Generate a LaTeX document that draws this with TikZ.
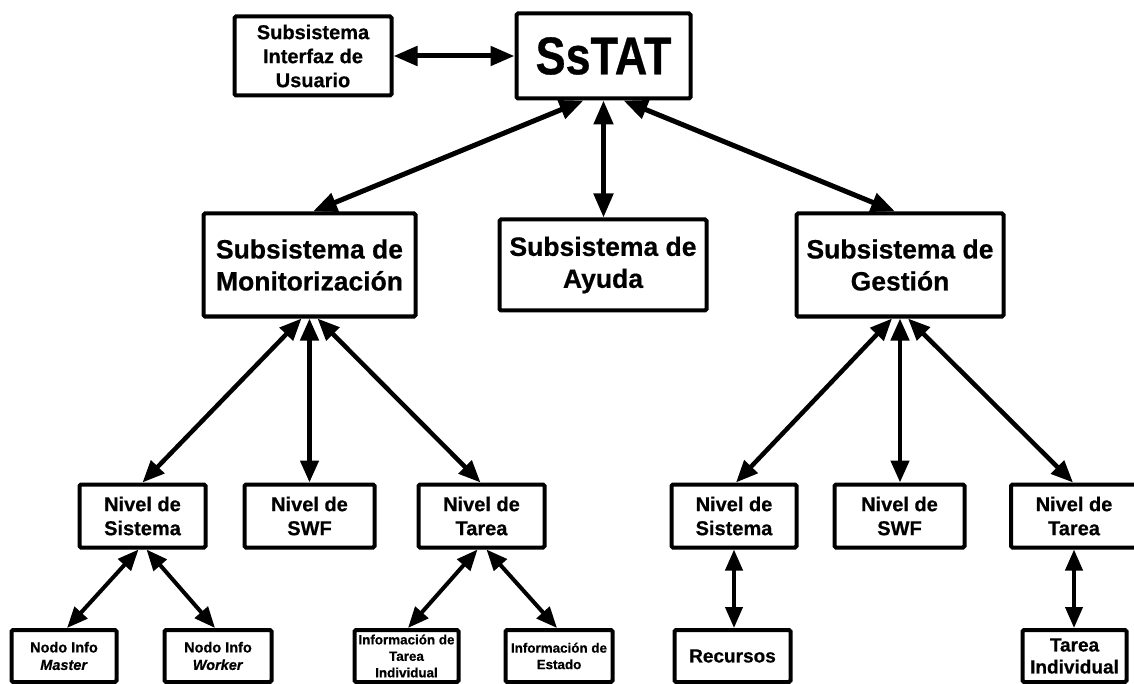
\documentclass[tikz,border=0pt]{standalone}
\usepackage{fontspec}
\setmainfont{Liberation Sans}[BoldFeatures={FakeBold=0.6},BoldItalicFeatures={FakeBold=0.6}]
\usetikzlibrary{arrows.meta}
\begin{document}
\begin{tikzpicture}[x=1pt,y=-1pt,
  box/.style={draw, line width=4pt, rounded corners=1.5pt, inner sep=0pt, align=center, font=\bfseries},
  arrA/.style={line width=5pt, {Triangle[length=24pt,width=19pt]}-{Triangle[length=24pt,width=19pt]}},
  arrB/.style={line width=4.5pt, {Triangle[length=22pt,width=18pt]}-{Triangle[length=22pt,width=18pt]}},
  arrC/.style={line width=4pt, {Triangle[length=21pt,width=17pt]}-{Triangle[length=21pt,width=17pt]}},
  fA/.style={font=\bfseries\fontsize{26.5}{32}\selectfont},
  fB/.style={font=\bfseries\fontsize{20}{24}\selectfont},
  fC/.style={font=\bfseries\fontsize{14.5}{17.5}\selectfont},
  fD/.style={font=\bfseries\fontsize{13.4}{16.5}\selectfont},
  fE/.style={font=\bfseries\fontsize{19}{22}\selectfont}]
\useasboundingbox (0,0) rectangle (1134,684);
% top
\node[box, minimum width=174pt, minimum height=85pt] (sstat) at (603.5,56)
  {\fontsize{45}{50}\selectfont\scalebox{1}[1.18]{SsTAT}};
\node[box, fB, minimum width=157pt, minimum height=79pt] (ui) at (313,56)
  {Subsistema\\Interfaz de\\Usuario};
% level 2
\node[box, fA, minimum width=212pt, minimum height=103pt] (mon) at (309.5,265)
  {Subsistema de\\Monitorización};
\node[box, fA, minimum width=207pt, minimum height=91pt] (ayu) at (603,265)
  {Subsistema de\\Ayuda};
\node[box, fA, minimum width=207pt, minimum height=103pt] (ges) at (900,265)
  {Subsistema de\\Gestión};
% level 3
\node[box, fB, minimum width=126pt, minimum height=63pt] (nsL) at (142.5,516) {Nivel de\\Sistema};
\node[box, fB, minimum width=130pt, minimum height=63pt] (nwL) at (309.5,516) {Nivel de\\SWF};
\node[box, fB, minimum width=126pt, minimum height=63pt] (ntL) at (481.5,516) {Nivel de\\Tarea};
\node[box, fB, minimum width=125pt, minimum height=63pt] (nsR) at (734,516) {Nivel de\\Sistema};
\node[box, fB, minimum width=130pt, minimum height=63pt] (nwR) at (899.5,516) {Nivel de\\SWF};
\node[box, fB, minimum width=126pt, minimum height=63pt] (ntR) at (1074,516) {Nivel de\\Tarea};
% level 4
\node[box, fC, minimum width=105pt, minimum height=52pt] (master) at (64,656) {Nodo Info\\\textit{Master}};
\node[box, fC, minimum width=107pt, minimum height=52pt] (worker) at (218,656) {Nodo Info\\\textit{Worker}};
\node[box, fD, minimum width=104pt, minimum height=52pt] (itI) at (406.5,656) {Información de\\Tarea\\Individual};
\node[box, fD, minimum width=107pt, minimum height=52pt] (iE) at (559,656) {Información de\\Estado};
\node[box, fE, minimum width=116pt, minimum height=52pt] (rec) at (732.5,656) {Recursos};
\node[box, fE, minimum width=104pt, minimum height=52pt] (tI) at (1074.5,656) {Tarea\\Individual};
% arrows level 1
\draw[arrA] (ui.east) -- (sstat.west);
\draw[arrA] ([xshift=-20pt]sstat.south) -- ([xshift=3.5pt]mon.north);
\draw[arrA] (sstat.south) -- (sstat.south |- ayu.north);
\draw[arrA] ([xshift=20pt]sstat.south) -- ([xshift=-5pt]ges.north);
% arrows level 2
\draw[arrB] ([xshift=-8pt]mon.south) -- (nsL.north);
\draw[arrB] (mon.south) -- (mon.south |- nwL.north);
\draw[arrB] ([xshift=8pt]mon.south) -- ([xshift=-1pt]ntL.north);
\draw[arrB] ([xshift=-8pt]ges.south) -- ([xshift=2pt]nsR.north);
\draw[arrB] (ges.south) -- (ges.south |- nwR.north);
\draw[arrB] ([xshift=8pt]ges.south) -- ([xshift=-1pt]ntR.north);
% arrows level 3
\draw[arrC] ([xshift=-4pt]nsL.south) -- ([xshift=3pt]master.north);
\draw[arrC] ([xshift=4pt]nsL.south) -- ([xshift=-3pt]worker.north);
\draw[arrC] ([xshift=-4pt]ntL.south) -- ([xshift=1.5pt]itI.north);
\draw[arrC] ([xshift=5pt]ntL.south) -- ([xshift=-2pt]iE.north);
\draw[arrC] (nsR.south) -- (nsR.south |- rec.north);
\draw[arrC] (ntR.south) -- (ntR.south |- tI.north);
\end{tikzpicture}
\end{document}
